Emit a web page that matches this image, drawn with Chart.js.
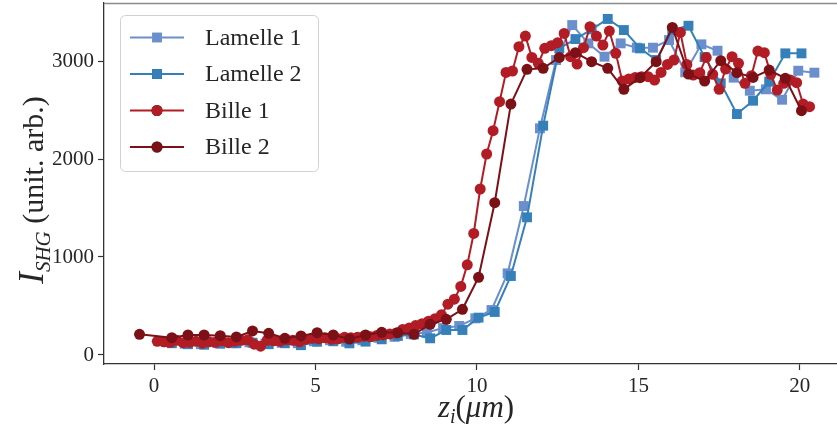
<!DOCTYPE html>
<html>
<head>
<meta charset="utf-8">
<script src="https://cdn.jsdelivr.net/npm/chart.js@4/dist/chart.umd.min.js"></script>
<style>
  html, body { margin: 0; padding: 0; background: #fff; }
</style>
</head>
<body>
<canvas id="chart" width="837" height="428"></canvas>
<script>
const xTicks = [0, 5, 10, 15, 20];
const yTicks = [0, 1000, 2000, 3000];

const lamelle1X = [0.45,0.95,1.45,1.95,2.45,2.95,3.45,3.95,4.45,4.95,5.45,5.95,6.45,6.95,7.45,7.95,8.45,8.95,9.45,9.95,
  10.45,10.95,11.45,11.95,12.45,12.95,13.45,13.95,14.45,14.95,15.45,15.95,16.45,16.95,17.45,17.95,18.45,18.95,19.45,19.95,20.45];
const lamelle1Y = [130,115,110,125,120,130,115,125,120,140,150,135,150,175,185,215,230,275,296,374,
  459,833,1520,2313,3010,3367,3180,3044,3180,3136,3136,3214,2885,3170,3105,2830,2697,2711,2605,2901,2881];

const lamelle2X = [0.55,1.05,1.55,2.05,2.55,3.05,3.55,4.05,4.55,5.05,5.55,6.05,6.55,7.05,7.55,8.05,8.55,9.05,9.55,10.05,
  10.55,11.05,11.55,12.05,12.55,13.05,13.55,14.05,14.55,15.05,15.55,16.05,16.55,17.05,17.55,18.05,18.55,19.05,19.55,20.05];
const lamelle2Y = [120,110,105,115,120,125,110,120,100,135,140,119,136,160,194,210,170,255,255,381,
  439,806,1405,2340,3129,3224,3323,3429,3316,3129,3010,3316,3360,3040,2772,2459,2595,2789,3078,3078];

const bille1X = [0.1,0.3,0.5,0.7,0.9,1.1,1.3,1.5,1.7,1.9,2.1,2.3,2.5,2.7,2.9,3.1,3.3,3.5,3.7,3.9,
  4.1,4.3,4.5,4.7,4.9,5.1,5.3,5.5,5.7,5.9,6.1,6.3,6.5,6.7,6.9,7.1,7.3,7.5,7.7,7.9,
  8.1,8.3,8.5,8.7,8.9,9.1,9.3,9.5,9.7,9.9,10.1,10.3,10.5,10.7,10.9,11.1,11.3,11.5,11.7,11.9,
  12.1,12.3,12.5,12.7,12.9,13.1,13.3,13.5,13.7,13.9,14.1,14.3,14.5,14.7,14.9,15.1,15.3,15.5,15.7,15.9,
  16.1,16.3,16.5,16.7,16.9,17.1,17.3,17.5,17.7,17.9,18.1,18.3,18.5,18.7,18.9,19.1,19.3,19.5,19.7,19.9,20.1,20.3];
const bille1Y = [140,135,130,150,125,130,140,120,135,130,145,125,140,150,155,110,90,150,145,140,
  155,150,135,160,170,165,175,160,165,180,175,180,190,185,200,205,215,225,260,275,
  300,320,345,370,410,518,570,700,920,1240,1694,2051,2289,2585,2883,2898,3146,3255,3037,2976,
  3129,3156,3187,3282,3044,2969,3136,3350,3255,3163,3306,3078,2796,2816,2833,2840,2840,2806,2883,2965,
  3010,3292,2965,2857,2881,3037,2864,2711,2918,3044,2976,2772,2850,3102,3085,2864,2704,2772,2806,2779,2561,2534];

const bille2X = [-0.45,0.55,1.05,1.55,2.05,2.55,3.05,3.55,4.05,4.55,5.05,5.55,6.05,6.55,7.05,7.55,8.05,8.55,9.05,9.55,10.05,
  10.55,11.05,11.55,12.05,12.55,13.05,13.55,14.05,14.55,15.05,15.55,16.05,16.55,17.05,17.55,18.05,18.55,19.05,19.55,20.05];
const bille2Y = [211,177,204,204,197,184,245,221,170,195,228,204,163,204,231,228,211,313,364,466,793,
  1554,2561,2915,2925,3037,3085,2993,2925,2711,2830,2993,3343,2867,2796,3003,2881,2833,2908,2823,2493];

const seriesLabels = ['Lamelle 1', 'Lamelle 2', 'Bille 1', 'Bille 2'];
const seriesColors = ['#6b8fcc', '#3580b9', '#b11c25', '#7b1116'];

const SERIF = "'Liberation Serif', 'DejaVu Serif', serif";
const pts = (xs, ys) => xs.map((x, i) => ({ x: x, y: ys[i] }));

function dataset(i, xs, ys, style, order) {
  return {
    label: seriesLabels[i],
    data: pts(xs, ys),
    borderColor: seriesColors[i],
    backgroundColor: seriesColors[i],
    borderWidth: 2,
    pointStyle: style,
    pointRadius: style === 'rect' ? 7 : 5.5,
    pointBorderWidth: 0,
    order: order
  };
}

// fix the axis boxes so the plot area matches the original figure
function fitBox(size) {
  return s => {
    if (s.isHorizontal()) s.height = size; else s.width = size;
    s.paddingTop = 0; s.paddingBottom = 0; s.paddingLeft = 0; s.paddingRight = 0;
  };
}

// legend box + axis titles (with sub-scripts) drawn by hand
const extras = {
  id: 'extras',
  afterDraw(chart) {
    const ctx = chart.ctx;
    const a = chart.chartArea;
    ctx.save();
    // top spine
    ctx.strokeStyle = '#8a8a8a';
    ctx.lineWidth = 1.3;
    ctx.beginPath();
    ctx.moveTo(a.left, a.top + 0.5);
    ctx.lineTo(a.right, a.top + 0.5);
    ctx.stroke();

    // legend
    ctx.fillStyle = 'rgba(255,255,255,0.85)';
    ctx.strokeStyle = '#d0d0d0';
    ctx.lineWidth = 1;
    ctx.beginPath();
    ctx.roundRect(120.5, 15.5, 198, 156, 5);
    ctx.fill();
    ctx.stroke();
    chart.data.datasets.forEach((ds, i) => {
      const y = 37.5 + i * 36.5;
      ctx.strokeStyle = ds.borderColor;
      ctx.lineWidth = 2;
      ctx.beginPath();
      ctx.moveTo(130, y);
      ctx.lineTo(184, y);
      ctx.stroke();
      Chart.helpers.drawPoint(ctx, {
        pointStyle: ds.pointStyle, radius: ds.pointRadius, rotation: 0, borderWidth: 0
      }, 157, y);
      ctx.fillStyle = ds.backgroundColor;
      ctx.fill();
      ctx.fillStyle = '#262626';
      ctx.font = '24px ' + SERIF;
      ctx.textBaseline = 'middle';
      ctx.textAlign = 'left';
      ctx.fillText(ds.label, 205, y + 1);
    });

    // rich text helper
    function rich(parts, cx, cy) {
      let w = 0;
      parts.forEach(p => { ctx.font = p.f; w += ctx.measureText(p.t).width; });
      let x = cx - w / 2;
      ctx.textBaseline = 'alphabetic';
      ctx.textAlign = 'left';
      parts.forEach(p => {
        ctx.font = p.f;
        ctx.fillText(p.t, x, cy + (p.dy || 0));
        x += ctx.measureText(p.t).width;
      });
    }
    ctx.fillStyle = '#262626';
    // y title
    ctx.save();
    ctx.translate(43, 190);
    ctx.rotate(-Math.PI / 2);
    rich([
      { t: 'I', f: 'italic 35px ' + SERIF },
      { t: 'SHG', f: 'italic 21px ' + SERIF, dy: 7 },
      { t: ' (unit. arb.)', f: '30px ' + SERIF }
    ], 0, 0);
    ctx.restore();
    // x title
    rich([
      { t: 'z', f: 'italic 31px ' + SERIF },
      { t: 'i', f: 'italic 20px ' + SERIF, dy: 6 },
      { t: '(', f: '31px ' + SERIF },
      { t: 'μm', f: 'italic 31px ' + SERIF },
      { t: ')', f: '31px ' + SERIF }
    ], 476, 417);
    ctx.restore();
  }
};

new Chart(document.getElementById('chart'), {
  type: 'line',
  data: {
    datasets: [
      dataset(0, lamelle1X, lamelle1Y, 'rect', 4),
      dataset(1, lamelle2X, lamelle2Y, 'rect', 3),
      dataset(2, bille1X, bille1Y, 'circle', 2),
      dataset(3, bille2X, bille2Y, 'circle', 1)
    ]
  },
  options: {
    responsive: false,
    animation: false,
    devicePixelRatio: 1,
    layout: { autoPadding: false, padding: { top: 3, right: 0, left: 0, bottom: 0 } },
    plugins: {
      legend: { display: false },
      tooltip: { enabled: false }
    },
    scales: {
      x: {
        type: 'linear',
        min: -1.55,
        max: 21.15,
        afterFit: fitBox(64),
        afterBuildTicks: s => { s.ticks = xTicks.map(v => ({ value: v })); },
        ticks: { font: { family: SERIF, size: 21 }, color: '#262626', padding: 4, maxRotation: 0,
                 callback: v => String(v) },
        grid: { drawOnChartArea: false, tickLength: 6, color: '#333', tickWidth: 1.2 },
        border: { color: '#333', width: 1.3 }
      },
      y: {
        min: -92,
        max: 3592,
        afterFit: fitBox(104),
        afterBuildTicks: s => { s.ticks = yTicks.map(v => ({ value: v })); },
        ticks: { font: { family: SERIF, size: 21 }, color: '#262626', padding: 4,
                 callback: v => String(v) },
        grid: { drawOnChartArea: false, tickLength: 6, color: '#333', tickWidth: 1.2 },
        border: { color: '#333', width: 1.3 }
      }
    }
  },
  plugins: [extras]
});
</script>
</body>
</html>
